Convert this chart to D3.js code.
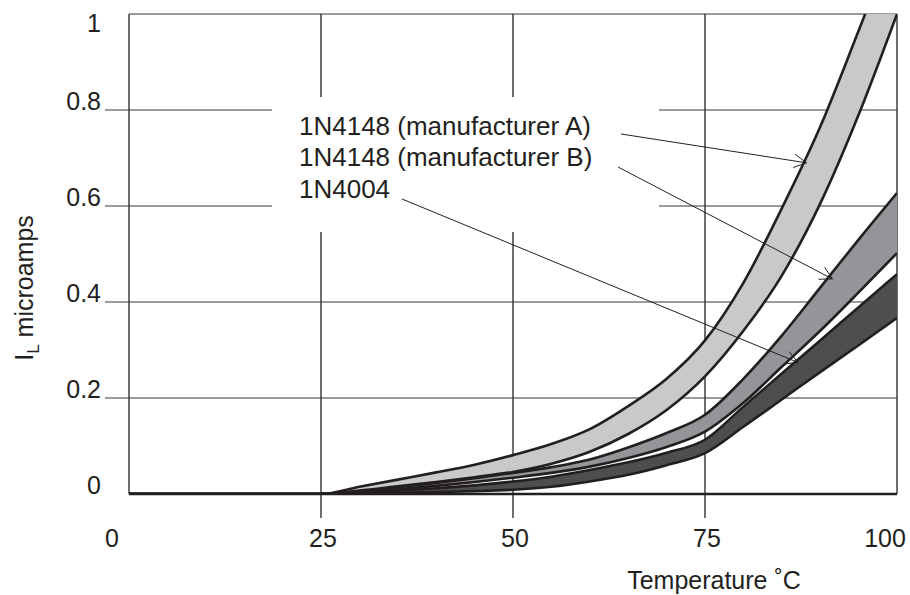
<!DOCTYPE html>
<html lang="en">
	<head>
		<meta charset="utf-8">
		<title>Diode leakage current vs temperature</title>
		<script type="text/javascript" src="https://d3js.org/d3.v7.min.js"></script>
		<style type="text/css">
			body {
				margin: 0;
				background: white;
			}
			text {
				font-family: 'Liberation Sans', Arial, sans-serif;
				font-size: 25px;
				fill: #231f20;
			}
		</style>
	</head>
	<body>
		<div id="chart"></div>
		<script type="text/javascript">

		//Data (temperature in C, leakage in microamps)
		var temps = [0, 25, 30, 35, 40, 45, 50, 55, 60, 65, 70, 75, 80, 85, 90, 95, 100];
		var aHigh = [0, 0, 0.015, 0.030, 0.045, 0.061, 0.081, 0.104, 0.135, 0.183, 0.240, 0.32, 0.44, 0.595, 0.765, 0.965, 1.17];
		var aLow  = [0, 0, 0.007, 0.016, 0.025, 0.035, 0.046, 0.063, 0.088, 0.125, 0.175, 0.245, 0.34, 0.455, 0.605, 0.79, 1.0];
		var bHigh = [0, 0, 0.006, 0.014, 0.023, 0.033, 0.044, 0.056, 0.072, 0.097, 0.127, 0.165, 0.24, 0.33, 0.43, 0.53, 0.627];
		var bLow  = [0, 0, 0.004, 0.010, 0.017, 0.025, 0.034, 0.044, 0.057, 0.075, 0.098, 0.13, 0.19, 0.265, 0.34, 0.42, 0.502];
		var cHigh = [0, 0, 0.003, 0.007, 0.012, 0.018, 0.026, 0.036, 0.050, 0.066, 0.086, 0.113, 0.182, 0.251, 0.32, 0.389, 0.458];
		var cLow  = [0, 0, 0.001, 0.002, 0.004, 0.006, 0.009, 0.015, 0.026, 0.040, 0.060, 0.085, 0.14, 0.197, 0.254, 0.31, 0.367];

		var xTicks = [0, 25, 50, 75, 100];
		var yTicks = [0, 0.2, 0.4, 0.6, 0.8, 1];
		var legendLabels = ["1N4148 (manufacturer A)", "1N4148 (manufacturer B)", "1N4004"];

		var w = 910, h = 595;
		var pLeft = 129, pRight = 897, pTop = 14, pBottom = 494;
		var ink = "#231f20";

		var x = d3.scaleLinear().domain([0, 100]).range([pLeft, pRight]);
		var y = d3.scaleLinear().domain([0, 1]).range([pBottom, pTop]);

		var svg = d3.select("#chart")
			.append("svg")
			.attr("width", w)
			.attr("height", h)
			;

		svg.append("defs")
			.append("clipPath")
			.attr("id", "plotclip")
			.append("rect")
			.attr("x", pLeft)
			.attr("y", pTop)
			.attr("width", pRight - pLeft)
			.attr("height", pBottom - pTop)
			;

		//Grid
		var grid = svg.append("g");

		grid.selectAll("line.h")
			.data(yTicks.filter(function(d) { return d > 0 && d < 1; }))
			.enter()
			.append("line")
			.attr("x1", pLeft - 24)
			.attr("x2", pRight)
			.attr("y1", function(d) { return y(d); })
			.attr("y2", function(d) { return y(d); })
			.attr("stroke", "#7a7a7a")
			.attr("stroke-width", 1.5)
			;

		grid.append("line")
			.attr("x1", pLeft).attr("x2", pRight)
			.attr("y1", y(1)).attr("y2", y(1))
			.attr("stroke", "#7a7a7a")
			.attr("stroke-width", 1.5)
			;

		grid.selectAll("line.v")
			.data(xTicks.filter(function(d) { return d > 0 && d < 100; }))
			.enter()
			.append("line")
			.attr("x1", function(d) { return x(d); })
			.attr("x2", function(d) { return x(d); })
			.attr("y1", pTop)
			.attr("y2", pBottom + 24)
			.attr("stroke", ink)
			.attr("stroke-width", 1.3)
			;

		grid.selectAll("line.border")
			.data([0, 100])
			.enter()
			.append("line")
			.attr("x1", function(d) { return x(d); })
			.attr("x2", function(d) { return x(d); })
			.attr("y1", pTop)
			.attr("y2", pBottom)
			.attr("stroke", ink)
			.attr("stroke-width", 1.3)
			;

		//white box behind the legend text
		svg.append("rect")
			.attr("x", 272)
			.attr("y", 97)
			.attr("width", 387)
			.attr("height", 135)
			.attr("fill", "white")
			;

		//Bands
		var bands = [
			{lo: cLow, hi: cHigh, fill: "#4e4e50"},
			{lo: bLow, hi: bHigh, fill: "#949598"},
			{lo: aLow, hi: aHigh, fill: "#c8c9cb"}
		];

		var area = d3.area()
			.x(function(d) { return x(d.t); })
			.y0(function(d) { return y(d.lo); })
			.y1(function(d) { return y(d.hi); })
			.curve(d3.curveMonotoneX)
			;

		var line = d3.line()
			.x(function(d) { return x(d[0]); })
			.y(function(d) { return y(d[1]); })
			.curve(d3.curveMonotoneX)
			;

		var plot = svg.append("g").attr("clip-path", "url(#plotclip)");

		bands.forEach(function(b) {
			var pts = temps.map(function(t, i) { return {t: t, lo: b.lo[i], hi: b.hi[i]}; });
			plot.append("path")
				.attr("d", area(pts))
				.attr("fill", b.fill)
				;
			[b.lo, b.hi].forEach(function(s) {
				plot.append("path")
					.attr("d", line(temps.map(function(t, i) { return [t, s[i]]; })))
					.attr("fill", "none")
					.attr("stroke", ink)
					.attr("stroke-width", 2.6)
					;
			});
		});

		//zero line
		svg.append("line")
			.attr("x1", pLeft).attr("x2", pRight)
			.attr("y1", y(0)).attr("y2", y(0))
			.attr("stroke", ink)
			.attr("stroke-width", 2.6)
			;

		//Tick labels
		svg.selectAll("text.ylab")
			.data(yTicks)
			.enter()
			.append("text")
			.attr("text-anchor", "end")
			.attr("x", 101)
			.attr("y", function(d) { return d == 1 ? y(d) + 18 : y(d); })
			.text(function(d) { return d3.format("")(d); })
			;

		svg.selectAll("text.xlab")
			.data(xTicks)
			.enter()
			.append("text")
			.attr("text-anchor", "middle")
			.attr("x", function(d) {
				if (d == 0) return x(d) - 17;
				if (d == 100) return x(d) - 12;
				return x(d) + 2;
			})
			.attr("y", 547)
			.text(function(d) { return d; })
			;

		//Axis titles
		svg.append("text")
			.attr("text-anchor", "middle")
			.attr("x", 714)
			.attr("y", 589)
			.text("Temperature \u02daC")
			;

		var yt = svg.append("text")
			.attr("text-anchor", "middle")
			.attr("transform", "translate(33,288) rotate(-90)")
			;
		yt.append("tspan").text("I");
		yt.append("tspan").attr("dy", 6).style("font-size", "17px").text("L");
		yt.append("tspan").attr("dy", -6).text(" microamps");

		//Legend labels and arrows
		var legendY = [135, 166, 198];
		svg.selectAll("text.leg")
			.data(legendLabels)
			.enter()
			.append("text")
			.attr("x", 299)
			.attr("y", function(d, i) { return legendY[i]; })
			.style("font-size", "26px")
			.text(function(d) { return d; })
			;

		var arrows = [
			{x1: 621, y1: 134, t: 88.2, v: 0.69},
			{x1: 618, y1: 167, t: 91.6, v: 0.448},
			{x1: 402, y1: 199, t: 87.1, v: 0.274}
		];

		arrows.forEach(function(a) {
			var x2 = x(a.t), y2 = y(a.v);
			var ang = Math.atan2(y2 - a.y1, x2 - a.x1);
			var len = 14, spread = 0.5;
			svg.append("line")
				.attr("x1", a.x1).attr("y1", a.y1)
				.attr("x2", x2).attr("y2", y2)
				.attr("stroke", ink)
				.attr("stroke-width", 1)
				;
			[-spread, spread].forEach(function(s) {
				svg.append("line")
					.attr("x1", x2).attr("y1", y2)
					.attr("x2", x2 - len * Math.cos(ang + s))
					.attr("y2", y2 - len * Math.sin(ang + s))
					.attr("stroke", ink)
					.attr("stroke-width", 1)
					;
			});
		});

		</script>
	</body>
</html>
